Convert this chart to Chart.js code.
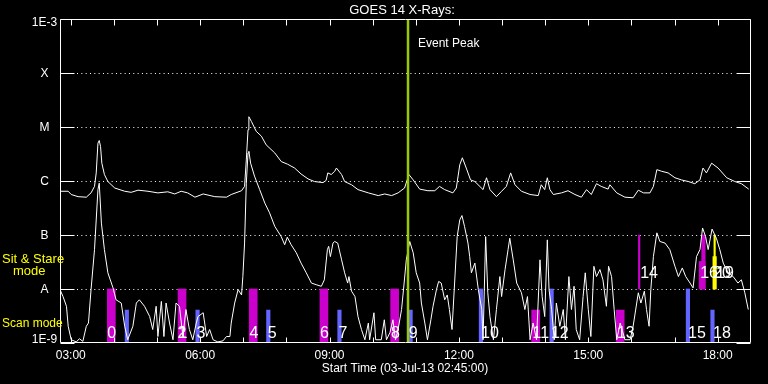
<!DOCTYPE html>
<html><head><meta charset="utf-8">
<script src="https://cdn.jsdelivr.net/npm/chart.js@4/dist/chart.umd.min.js"></script>
<style>html,body{margin:0;padding:0;background:#000;}canvas{display:block;}</style>
</head><body>
<canvas id="c" width="768" height="384"></canvas>
<script>
// ---------- DATA ----------
const chartTitle = 'GOES 14 X-Rays:';
const xAxisTitle = 'Start Time (03-Jul-13 02:45:00)';
const timeRange = [2.75, 18.75];                 // hours of day
const xTickHours = [3, 6, 9, 12, 15, 18];
const xTickLabels = ['03:00', '06:00', '09:00', '12:00', '15:00', '18:00'];
const yLevels = [-9, -8, -7, -6, -5, -4, -3];    // log10 flux (W/m^2)
const yLabels = ['1E-9', 'A', 'B', 'C', 'M', 'X', '1E-3'];

// long channel (1-8 A), [hour, log10 flux]
const longChannel = [
[2.75,-6.19],[2.94,-6.19],[3.01,-6.25],[3.17,-6.29],[3.36,-6.30],[3.47,-6.22],[3.55,-6.10],[3.59,-5.85],
[3.63,-5.30],[3.66,-5.25],[3.69,-5.36],[3.72,-5.67],[3.78,-5.88],[3.86,-6.01],[4.02,-6.13],[4.25,-6.19],
[4.40,-6.21],[4.56,-6.17],[4.79,-6.19],[5.02,-6.22],[5.25,-6.20],[5.41,-6.24],[5.56,-6.19],[5.71,-6.22],
[5.88,-6.30],[6.07,-6.24],[6.34,-6.29],[6.61,-6.30],[6.72,-6.25],[6.96,-6.18],[7.03,-6.10],[7.07,-5.61],
[7.11,-5.05],[7.13,-4.81],[7.19,-4.90],[7.30,-5.08],[7.42,-5.17],[7.53,-5.33],[7.73,-5.48],[7.88,-5.64],
[8.03,-5.69],[8.19,-5.76],[8.34,-5.87],[8.50,-5.96],[8.65,-6.01],[8.85,-6.03],[8.92,-5.99],[8.96,-5.85],
[9.04,-5.88],[9.12,-5.82],[9.16,-5.76],[9.28,-5.88],[9.35,-6.01],[9.51,-6.07],[9.66,-6.16],[9.90,-6.22],
[10.13,-6.27],[10.28,-6.24],[10.44,-6.27],[10.59,-6.22],[10.74,-6.13],[10.84,-5.88],[10.94,-5.98],[11.09,-6.15],
[11.28,-6.18],[11.44,-6.18],[11.55,-6.10],[11.67,-6.16],[11.86,-6.22],[11.94,-6.13],[12.02,-5.70],[12.08,-5.57],
[12.17,-5.76],[12.27,-5.98],[12.37,-6.01],[12.56,-6.16],[12.64,-5.94],[12.72,-6.16],[12.87,-6.29],[12.99,-6.19],
[13.10,-6.10],[13.20,-5.85],[13.30,-6.07],[13.45,-6.19],[13.65,-6.25],[13.84,-6.27],[13.91,-6.07],[13.99,-6.16],
[14.05,-5.94],[14.11,-6.16],[14.19,-6.25],[14.38,-6.22],[14.53,-6.18],[14.69,-6.25],[14.84,-6.30],[14.96,-6.16],
[15.07,-6.25],[15.19,-6.05],[15.30,-6.10],[15.46,-6.15],[15.50,-6.07],[15.66,-6.22],[15.85,-6.30],[16.04,-6.31],
[16.16,-6.17],[16.28,-6.22],[16.43,-6.22],[16.51,-6.10],[16.59,-5.79],[16.70,-5.82],[16.85,-5.85],[17.01,-5.94],
[17.16,-5.98],[17.32,-6.01],[17.47,-6.05],[17.59,-5.98],[17.66,-5.76],[17.74,-5.85],[17.86,-5.67],[18.01,-5.76],
[18.21,-5.94],[18.40,-6.01],[18.55,-6.05],[18.72,-6.15]
];

// short channel (0.5-4 A), [hour, log10 flux]
const shortChannel = [
[2.75,-8.01],[2.82,-8.14],[2.90,-8.32],[2.94,-8.69],[3.01,-8.94],[3.13,-8.98],[3.20,-8.92],[3.28,-8.97],
[3.36,-8.69],[3.41,-8.63],[3.47,-8.01],[3.55,-7.27],[3.63,-6.16],[3.66,-6.04],[3.71,-6.78],[3.78,-7.27],
[3.86,-7.70],[3.98,-7.98],[4.05,-8.20],[4.17,-8.26],[4.25,-8.69],[4.32,-8.94],[4.44,-8.69],[4.52,-8.26],
[4.59,-8.20],[4.71,-8.32],[4.83,-8.51],[4.90,-8.75],[4.98,-8.32],[5.02,-8.88],[5.10,-8.23],[5.16,-8.88],
[5.21,-8.26],[5.29,-8.63],[5.37,-8.94],[5.44,-8.26],[5.52,-8.32],[5.60,-8.88],[5.67,-8.38],[5.75,-8.75],
[5.83,-8.94],[5.91,-8.63],[5.95,-8.51],[6.07,-8.44],[6.15,-8.88],[6.22,-8.75],[6.30,-8.94],[6.41,-8.98],
[6.53,-8.96],[6.61,-8.88],[6.69,-8.88],[6.72,-8.63],[6.80,-8.26],[6.88,-8.01],[6.96,-8.11],[6.99,-7.77],
[7.03,-7.15],[7.07,-6.04],[7.11,-5.48],[7.13,-5.45],[7.17,-5.67],[7.26,-5.91],[7.38,-6.16],[7.50,-6.41],
[7.61,-6.59],[7.73,-6.84],[7.88,-7.03],[7.96,-7.18],[8.02,-7.04],[8.11,-7.18],[8.23,-7.33],[8.34,-7.52],
[8.46,-7.70],[8.58,-7.89],[8.69,-7.92],[8.81,-7.95],[8.88,-7.83],[8.95,-7.27],[8.98,-7.21],[9.02,-7.40],
[9.08,-7.15],[9.12,-7.12],[9.19,-7.15],[9.28,-7.46],[9.35,-7.70],[9.42,-7.89],[9.45,-7.77],[9.51,-8.04],
[9.59,-8.14],[9.66,-8.51],[9.74,-8.75],[9.82,-8.94],[9.90,-8.63],[9.93,-8.94],[10.03,-8.44],[10.07,-8.94],
[10.20,-8.94],[10.27,-8.57],[10.32,-8.94],[10.40,-8.81],[10.47,-8.57],[10.53,-8.94],[10.59,-8.75],[10.67,-8.38],
[10.73,-7.89],[10.78,-7.46],[10.86,-7.12],[10.94,-7.33],[11.01,-7.70],[11.09,-7.89],[11.13,-8.26],[11.21,-8.63],
[11.27,-8.94],[11.35,-8.57],[11.40,-8.32],[11.48,-8.01],[11.53,-7.86],[11.59,-7.89],[11.67,-8.20],[11.73,-8.11],
[11.78,-8.38],[11.84,-8.75],[11.90,-7.89],[11.96,-7.03],[12.02,-6.72],[12.07,-6.64],[12.13,-6.84],[12.21,-7.15],
[12.25,-7.40],[12.29,-7.70],[12.37,-7.52],[12.45,-8.01],[12.53,-8.38],[12.56,-8.94],[12.62,-7.03],[12.67,-8.07],
[12.72,-8.51],[12.80,-8.94],[12.87,-8.38],[12.95,-7.77],[12.99,-8.14],[13.07,-7.64],[13.14,-7.27],[13.18,-7.06],
[13.26,-7.46],[13.34,-7.89],[13.45,-8.07],[13.53,-8.38],[13.59,-8.14],[13.65,-8.94],[13.72,-8.63],[13.80,-8.94],
[13.88,-7.46],[13.93,-8.14],[13.99,-8.51],[14.05,-7.09],[14.09,-8.01],[14.15,-8.38],[14.21,-8.94],[14.26,-8.26],
[14.34,-8.69],[14.42,-8.38],[14.47,-8.94],[14.55,-7.77],[14.61,-8.38],[14.67,-7.95],[14.72,-8.75],[14.80,-8.94],
[14.88,-8.14],[14.93,-7.70],[15.00,-8.38],[15.06,-8.88],[15.13,-7.58],[15.19,-7.77],[15.27,-7.64],[15.34,-7.83],
[15.42,-8.32],[15.47,-7.58],[15.54,-7.77],[15.60,-8.38],[15.66,-8.94],[15.74,-8.63],[15.85,-8.94],[15.97,-8.94],
[16.04,-8.69],[16.16,-8.07],[16.22,-8.26],[16.30,-8.04],[16.35,-8.38],[16.41,-8.69],[16.45,-8.01],[16.51,-7.40],
[16.59,-6.96],[16.66,-7.12],[16.78,-7.15],[16.89,-7.27],[17.01,-7.58],[17.09,-7.77],[17.18,-7.61],[17.26,-7.77],
[17.36,-7.89],[17.43,-7.98],[17.51,-7.40],[17.59,-7.27],[17.65,-6.87],[17.72,-7.03],[17.78,-7.27],[17.87,-6.89],
[17.97,-7.06],[18.05,-7.27],[18.13,-7.52],[18.24,-7.70],[18.36,-7.77],[18.47,-7.89],[18.55,-7.83],[18.63,-8.07],
[18.71,-8.38]
];

// sit & stare observations: [hour, low, high] in log10 flux
const sitStareBars = [[3.94,-9,-8],[5.58,-9,-8],[7.23,-9,-8],[8.87,-9,-8],[10.51,-9,-8],[13.78,-9,-8.39],[15.74,-9,-8.39]];
// scan mode observations
const scanBars = [[4.30,-9,-8.39],[5.94,-9,-8.39],[7.58,-9,-8.39],[9.23,-9,-8.39],[10.88,-9,-8.39],
                  [12.51,-9,-8],[14.15,-9,-8],[17.31,-9,-8],[17.88,-9,-8.39]];
// upper sit & stare markers (B to A band)
const sitStareUpper = [[16.18,-8,-7],[17.67,-8,-7],[17.64,-8,-7.49]];
// latest (yellow) marker
const latestUpper = [[17.93,-8,-7],[17.93,-8,-7.40]];
const eventPeakHour = 10.82;

// event numbers: text, hour, level (log10) of text baseline
const eventLabelText  = ['0','1','2','3','4','5','6','7','8','9','10','11','12','13','15','18','14','16','20','19'];
const eventLabelHour  = [3.95,5.60,5.58,6.02,7.25,7.67,8.88,9.31,10.53,10.94,12.72,13.90,14.34,15.87,17.52,18.10,16.41,17.80,18.10,18.17];
const eventLabelLevel = [-8.91,-8.91,-8.91,-8.91,-8.91,-8.91,-8.91,-8.91,-8.91,-8.91,-8.91,-8.91,-8.91,-8.91,-8.91,-8.91,-7.80,-7.80,-7.80,-7.80];

// ---------- STYLE ----------
const WHITE = '#ffffff', MAGENTA = '#cc00cc', BLUE = '#6464ff', YELLOW = '#ffff00', GREEN = '#99cc00';
const FONT = '"Liberation Sans", Arial, sans-serif';
const upperWidths = [1.5, 3.5, 6];
const latestWidths = [1.5, 3.5];

function pts(arr) { return arr.map(p => ({x: p[0], y: p[1]})); }
function barPts(arr) { return arr.map(b => ({x: b[0], y: [b[1], b[2]]})); }

const datasets = [];
datasets.push({type:'line', data: pts(longChannel), borderColor: WHITE, borderWidth: 1, pointRadius: 0, tension: 0, order: 1});
datasets.push({type:'line', data: pts(shortChannel), borderColor: WHITE, borderWidth: 1, pointRadius: 0, tension: 0, order: 1});
datasets.push({type:'line', data: [{x: eventPeakHour, y: -9}, {x: eventPeakHour, y: -3}], borderColor: GREEN, borderWidth: 2.5, pointRadius: 0, order: 0});
datasets.push({type:'bar', data: barPts(sitStareBars), backgroundColor: MAGENTA, barThickness: 8, grouped: false, order: 5});
datasets.push({type:'bar', data: barPts(scanBars), backgroundColor: BLUE, barThickness: 3.5, grouped: false, order: 5});
sitStareUpper.forEach((b, i) => datasets.push({type:'bar', data: barPts([b]), backgroundColor: MAGENTA, barThickness: upperWidths[i], grouped: false, order: 5}));
latestUpper.forEach((b, i) => datasets.push({type:'bar', data: barPts([b]), backgroundColor: YELLOW, barThickness: latestWidths[i], grouped: false, order: 5}));

const deco = {
  id: 'deco',
  beforeDraw(chart) {
    const ctx = chart.ctx;
    ctx.save(); ctx.fillStyle = '#000'; ctx.fillRect(0, 0, chart.width, chart.height); ctx.restore();
  },
  beforeDatasetsDraw(chart) {
    const {ctx, chartArea: a, scales: {x, y}} = chart;
    ctx.save();
    ctx.strokeStyle = WHITE; ctx.lineWidth = 1;
    ctx.setLineDash([1, 3.33]);
    yLevels.slice(1, -1).forEach(v => {
      const py = Math.round(y.getPixelForValue(v)) + 0.5;
      ctx.beginPath(); ctx.moveTo(a.left + 17, py); ctx.lineTo(a.right - 15, py); ctx.stroke();
    });
    ctx.restore();
  },
  afterDatasetsDraw(chart) {
    const {ctx, chartArea: a, scales: {x, y}} = chart;
    ctx.save();
    ctx.strokeStyle = WHITE; ctx.lineWidth = 1; ctx.setLineDash([]);
    const L = a.left + 0.5, R = a.right + 0.5, T = a.top + 0.5, B = a.bottom - 0.5;
    ctx.beginPath(); ctx.rect(L, T, R - L, B - T); ctx.stroke();
    // decade ticks (inside, both sides)
    yLevels.forEach(v => {
      const py = Math.round(y.getPixelForValue(v)) + 0.5;
      ctx.beginPath(); ctx.moveTo(L, py); ctx.lineTo(L + 14, py); ctx.moveTo(R - 14, py); ctx.lineTo(R, py); ctx.stroke();
    });
    // hour ticks top and bottom
    for (let h = Math.ceil(timeRange[0]); h <= timeRange[1]; h++) {
      const px = Math.round(x.getPixelForValue(h)) + 0.5;
      ctx.beginPath(); ctx.moveTo(px, T); ctx.lineTo(px, T + 6); ctx.moveTo(px, B); ctx.lineTo(px, B - 5); ctx.stroke();
    }
    // texts
    ctx.fillStyle = WHITE;
    ctx.font = '12px ' + FONT;
    ctx.textAlign = 'center'; ctx.textBaseline = 'middle';
    yLevels.forEach((v, i) => {
      let py = y.getPixelForValue(v) + 1;
      if (i === 0) py -= 4; if (i === yLevels.length - 1) py += 3;
      ctx.fillText(yLabels[i], 44.5, py);
    });
    ctx.textBaseline = 'alphabetic';
    xTickHours.forEach((h, i) => ctx.fillText(xTickLabels[i], x.getPixelForValue(h), 359));
    ctx.fillText(xAxisTitle, (a.left + a.right) / 2, 372);
    ctx.font = '13px ' + FONT;
    ctx.fillText(chartTitle, 402, 14);
    ctx.font = '12px ' + FONT;
    ctx.textAlign = 'left';
    ctx.fillText('Event Peak', x.getPixelForValue(eventPeakHour) + 10, 47);
    ctx.fillStyle = YELLOW;
    ctx.font = '13px ' + FONT;
    ctx.fillText('Sit & Stare', 2, 263);
    ctx.fillText('mode', 13, 275);
    ctx.font = '12px ' + FONT;
    ctx.fillText('Scan mode', 2, 327);
    // event numbers
    ctx.fillStyle = WHITE;
    ctx.font = '16px ' + FONT;
    ctx.textAlign = 'center';
    eventLabelText.forEach((t, i) => ctx.fillText(t, x.getPixelForValue(eventLabelHour[i]), y.getPixelForValue(eventLabelLevel[i])));
    ctx.restore();
  }
};

new Chart(document.getElementById('c'), {
  type: 'line',
  data: {datasets},
  options: {
    responsive: false, animation: false, devicePixelRatio: 1, events: [],
    layout: {padding: {left: 60, top: 19, right: 18, bottom: 41}},
    plugins: {legend: {display: false}, title: {display: false}, tooltip: {enabled: false}},
    scales: {
      x: {type: 'linear', min: timeRange[0], max: timeRange[1], offset: false, display: false},
      y: {type: 'linear', min: yLevels[0], max: yLevels[yLevels.length - 1], display: false}
    }
  },
  plugins: [deco]
});
</script>
</body></html>
